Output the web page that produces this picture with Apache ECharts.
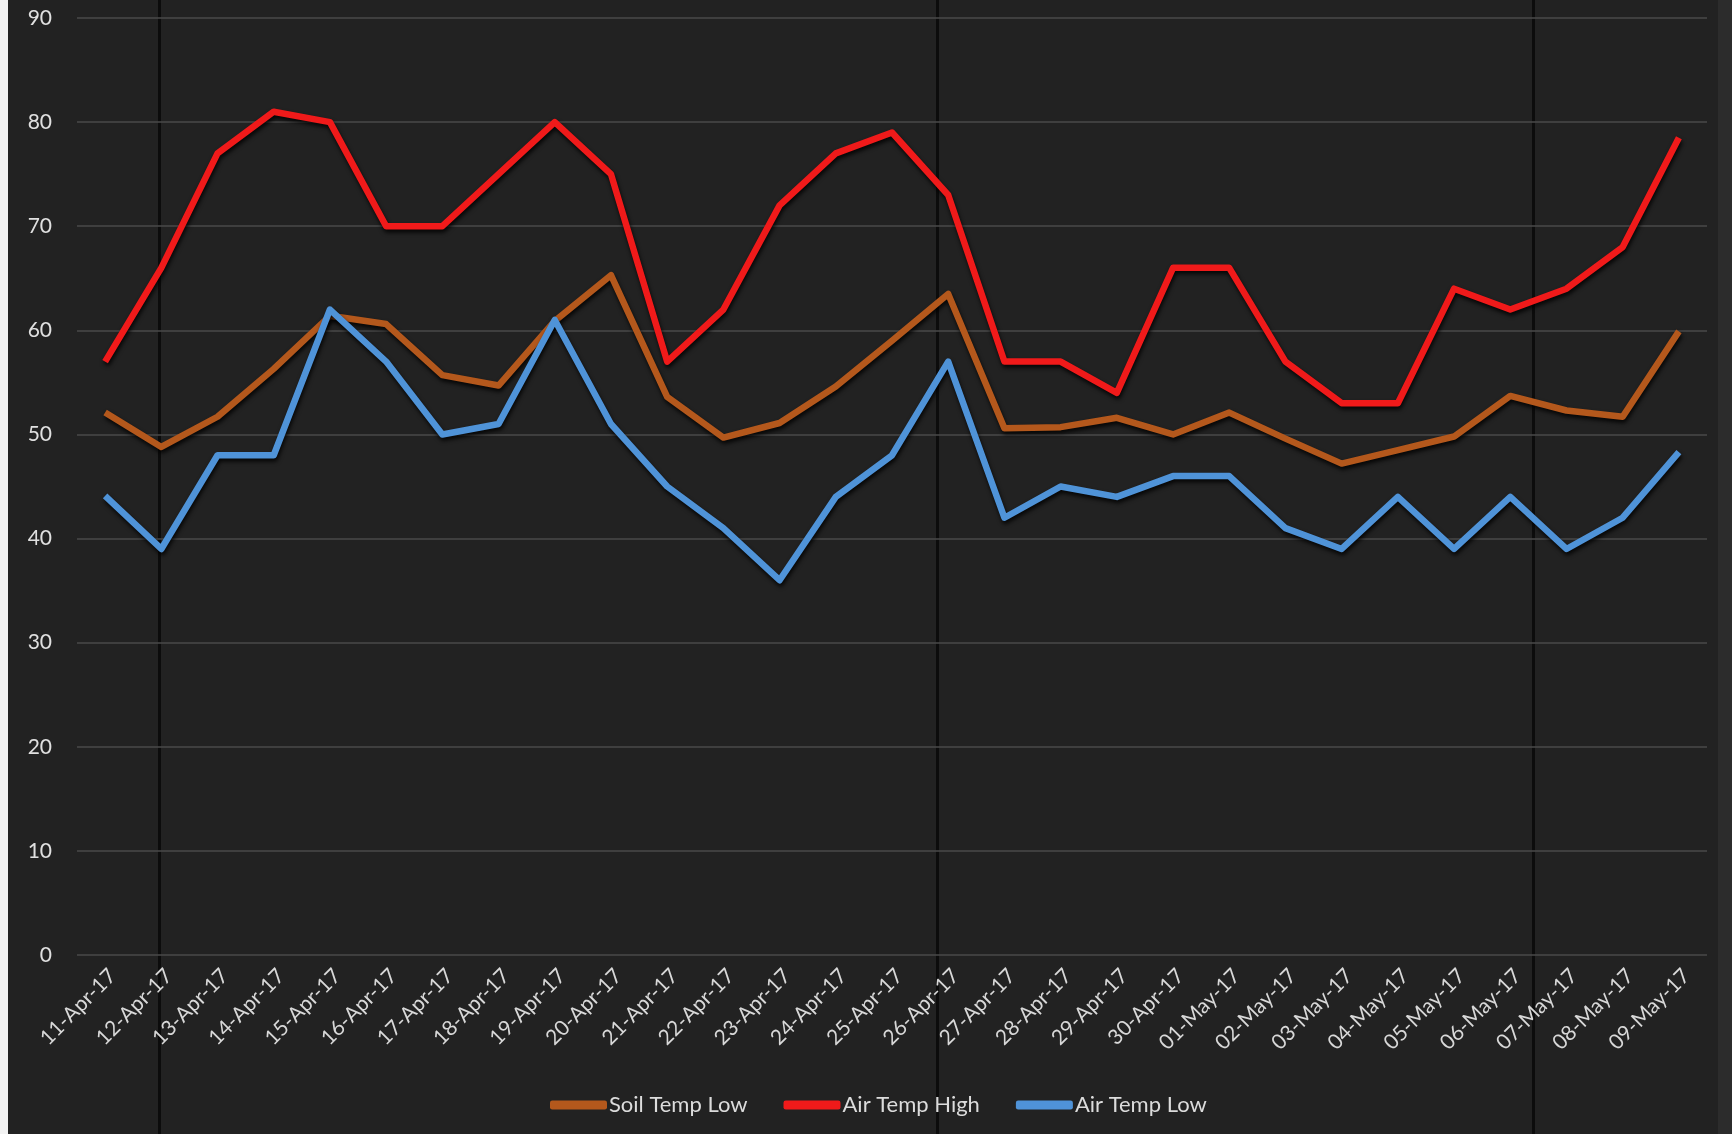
<!DOCTYPE html>
<html><head><meta charset="utf-8">
<script src="https://cdn.jsdelivr.net/npm/echarts@6/dist/echarts.min.js"></script>
<style>html,body{margin:0;padding:0;background:#222222;} #c{width:1732px;height:1134px;}</style>
</head><body><div id="c"></div>
<script>
const categories = ['11-Apr-17','12-Apr-17','13-Apr-17','14-Apr-17','15-Apr-17','16-Apr-17','17-Apr-17','18-Apr-17','19-Apr-17','20-Apr-17','21-Apr-17','22-Apr-17','23-Apr-17','24-Apr-17','25-Apr-17','26-Apr-17','27-Apr-17','28-Apr-17','29-Apr-17','30-Apr-17','01-May-17','02-May-17','03-May-17','04-May-17','05-May-17','06-May-17','07-May-17','08-May-17','09-May-17'];
const soilTempLow = [52.1, 48.8, 51.7, 56.3, 61.4, 60.6, 55.7, 54.7, 60.9, 65.3, 53.6, 49.7, 51.1, 54.6, 59, 63.5, 50.6, 50.7, 51.6, 50, 52.1, 49.6, 47.2, 48.5, 49.8, 53.7, 52.3, 51.7, 59.9];
const airTempHigh = [57, 66, 77, 81, 80, 70, 70, 75, 80, 75, 57, 62, 72, 77, 79, 73, 57, 57, 54, 66, 66, 57, 53, 53, 64, 62, 64, 68, 78.5];
const airTempLow = [44.1, 39, 48, 48, 62, 57, 50, 51, 61, 51, 45, 41, 36, 44, 48, 57, 42, 45, 44, 46, 46, 41, 39, 44, 39, 44, 39, 42, 48.3];
const seriesNames = ['Soil Temp Low', 'Air Temp High', 'Air Temp Low'];
const seriesColors = ['#b4581c', '#f01a1a', '#4f93d8'];

const chart = echarts.init(document.getElementById('c'), null, {renderer: 'canvas'});
const lineShadow = {shadowColor: 'rgba(0,0,0,0.85)', shadowBlur: 4, shadowOffsetX: 1, shadowOffsetY: 3};
function mk(i, data) {
  return {
    name: seriesNames[i], type: 'line', data: data, symbol: 'none', smooth: false,
    lineStyle: Object.assign({color: seriesColors[i], width: 6.5, join: 'round'}, lineShadow),
    itemStyle: {color: seriesColors[i]}
  };
}
chart.setOption({
  backgroundColor: '#222222',
  animation: false,
  textStyle: {fontFamily: 'Lato'},
  graphic: [
    {type: 'rect', left: 0, top: 0, shape: {width: 8, height: 1134}, style: {fill: '#f2f2f2'}, z: 100},
    {type: 'rect', left: 1718, top: 0, shape: {width: 14, height: 1134}, style: {fill: '#2c2c2c'}, z: -1},
    {type: 'rect', left: 158, top: 0, shape: {width: 3, height: 1134}, style: {fill: '#0c0c0c'}, z: -1},
    {type: 'rect', left: 936, top: 0, shape: {width: 3, height: 1134}, style: {fill: '#0c0c0c'}, z: -1},
    {type: 'rect', left: 1532, top: 0, shape: {width: 3, height: 1134}, style: {fill: '#0c0c0c'}, z: -1}
  ],
  grid: {left: 77, right: 25, top: 18, bottom: 179, containLabel: false},
  legend: {
    data: seriesNames, left: 545, top: 1089, icon: 'roundRect', itemWidth: 57, itemHeight: 9, itemGap: 36,
    textStyle: {color: '#dcdcdc', fontSize: 22, fontFamily: 'Lato', padding: [0, 0, 0, -3]}
  },
  xAxis: {
    type: 'category', data: categories, boundaryGap: true,
    axisLine: {show: false}, axisTick: {show: false},
    axisLabel: {rotate: 45, margin: 10, verticalAlign: 'top', color: '#d8d8d8', fontSize: 21, fontFamily: 'Lato', interval: 0}
  },
  yAxis: {
    type: 'value', min: 0, max: 90, interval: 10,
    axisLine: {show: false}, axisTick: {show: false},
    axisLabel: {color: '#e0e0e0', fontSize: 21, fontFamily: 'Lato', margin: 25},
    splitLine: {lineStyle: {color: '#4a4a4a', width: 1.5}}
  },
  series: [mk(0, soilTempLow), mk(1, airTempHigh), mk(2, airTempLow)]
});
</script></body></html>
